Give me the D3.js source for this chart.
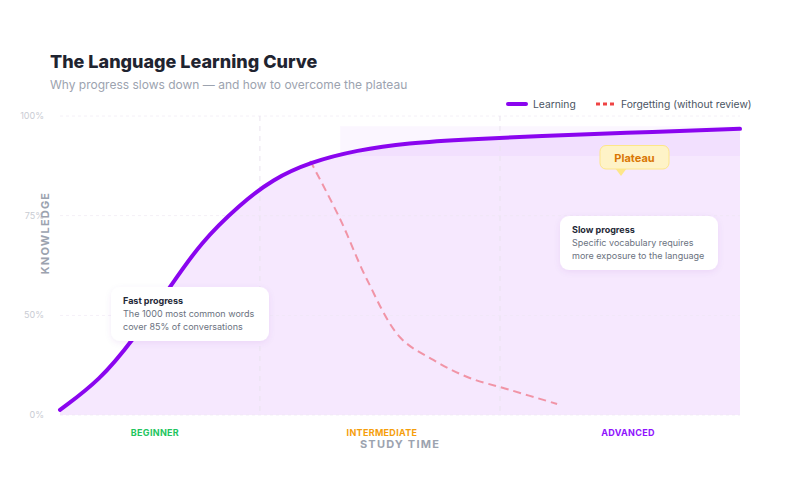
<!DOCTYPE html>
<html>
<head>
<meta charset="utf-8">
<script src="https://cdn.jsdelivr.net/npm/d3@7/dist/d3.min.js"></script>
<style>
  html, body { margin: 0; padding: 0; background: #ffffff; }
  svg { display: block; font-family: Inter, "Noto Sans", sans-serif; }
</style>
</head>
<body>
<svg id="chart" width="800" height="500"></svg>
<script>
// ---- data ----
const learnX = [0, 5.9, 10.7, 16.2, 20.6, 26.5, 31.3, 36.8, 43.7, 51.0, 60.7, 70.6, 82.4, 100];
const learnY = [1.7, 11.7, 25, 42.8, 57.5, 70.5, 78.9, 84.6, 88.6, 91, 92.3, 93.3, 94.3, 95.7];
const forgetX = [36.8, 41.2, 45.1, 50, 54.9, 59.9, 66, 73.1];
const forgetY = [85, 65.5, 45.5, 26, 18.4, 12.7, 8.5, 3.7];
const yTickPos = [0, 33.3, 66.7, 100];
const yTickLabels = ["0%", "50%", "75%", "100%"];
const phaseNames = ["BEGINNER", "INTERMEDIATE", "ADVANCED"];
const phaseBounds = [0, 29.4, 64.7, 100];
const phaseColors = ["#22c55e", "#f59e0b", "#9013fe"];
const plateauX = [41.2, 100];
const plateauY = [86.6, 96.6];

const svg = d3.select("#chart");
const W = 800, H = 500;
const m = { left: 60, right: 60, top: 116, bottom: 85 };

const x = d3.scaleLinear().domain([0, 100]).range([m.left, W - m.right]);
const y = d3.scaleLinear().domain([0, 100]).range([H - m.bottom, m.top]);

const defs = svg.append("defs");
const f = defs.append("filter").attr("id", "shadow").attr("x", "-20%").attr("y", "-30%").attr("width", "140%").attr("height", "170%");
f.append("feDropShadow").attr("dx", 0).attr("dy", 2).attr("stdDeviation", 3).attr("flood-color", "#6b21a8").attr("flood-opacity", 0.08);

// Title
svg.append("text").attr("x", 50).attr("y", 68).text("The Language Learning Curve")
  .attr("font-size", 18).attr("font-weight", 800).attr("fill", "#1f2430");
svg.append("text").attr("x", 50).attr("y", 89).text("Why progress slows down — and how to overcome the plateau")
  .attr("font-size", 12).attr("fill", "#9ca3af");

// Legend
const lg = svg.append("g");
lg.append("line").attr("x1", 508).attr("x2", 526).attr("y1", 104).attr("y2", 104)
  .attr("stroke", "#8a05ef").attr("stroke-width", 4).attr("stroke-linecap", "round");
lg.append("text").attr("x", 533).attr("y", 107.5).text("Learning").attr("font-size", 10.3).attr("fill", "#4b5563");
lg.append("line").attr("x1", 596).attr("x2", 614).attr("y1", 104).attr("y2", 104)
  .attr("stroke", "#ef4444").attr("stroke-width", 3).attr("stroke-dasharray", "4 3");
lg.append("text").attr("x", 621).attr("y", 107.5).text("Forgetting (without review)").attr("font-size", 10.3).attr("fill", "#4b5563");

// Area
const area = d3.area().x((d, i) => x(learnX[i])).y0(y(0)).y1((d, i) => y(learnY[i])).curve(d3.curveBasis);
svg.append("path").datum(learnY).attr("d", area).attr("fill", "#f6e8fe");

// Grid
svg.selectAll("line.h").data(yTickPos).join("line")
  .attr("x1", x(0)).attr("x2", x(100)).attr("y1", d => y(d)).attr("y2", d => y(d))
  .attr("stroke", "#ede6f1").attr("stroke-opacity", 0.6).attr("stroke-dasharray", "3 3");

// Plateau zone
svg.append("rect").attr("x", x(plateauX[0])).attr("y", y(plateauY[1]))
  .attr("width", x(plateauX[1]) - x(plateauX[0])).attr("height", y(plateauY[0]) - y(plateauY[1]))
  .attr("fill", "#a855f7").attr("fill-opacity", 0.05);

// Phase vertical dividers
svg.selectAll("line.v").data(phaseBounds.slice(1, 3)).join("line")
  .attr("x1", d => x(d)).attr("x2", d => x(d)).attr("y1", y(100)).attr("y2", y(0))
  .attr("stroke", "#e9e3ee").attr("stroke-dasharray", "5 5");

// Y axis labels
svg.selectAll("text.yt").data(yTickPos).join("text")
  .attr("x", 44).attr("y", d => y(d) + 3).attr("text-anchor", "end")
  .attr("font-size", 9).attr("fill", "#c9ccd3").text((d, i) => yTickLabels[i]);
svg.append("text").attr("transform", `translate(49,233) rotate(-90)`)
  .attr("text-anchor", "middle").attr("font-size", 11).attr("font-weight", 700)
  .attr("letter-spacing", 1.2).attr("fill", "#9ca3af").text("KNOWLEDGE");

// Forgetting curve
const fline = d3.line().x((d, i) => x(forgetX[i])).y(d => y(d)).curve(d3.curveCatmullRom);
svg.append("path").datum(forgetY).attr("d", fline).attr("fill", "none")
  .attr("stroke", "#f08596").attr("stroke-opacity", 0.85).attr("stroke-width", 2).attr("stroke-dasharray", "8 5");

// Learning curve
const lline = d3.line().x((d, i) => x(learnX[i])).y(d => y(d)).curve(d3.curveBasis);
svg.append("path").datum(learnY).attr("d", lline).attr("fill", "none")
  .attr("stroke", "#8a05ef").attr("stroke-width", 4).attr("stroke-linecap", "round");

// Phase labels
svg.selectAll("text.ph").data(phaseNames).join("text")
  .attr("x", (d, i) => (x(phaseBounds[i]) + x(phaseBounds[i + 1])) / 2 + [-5, 2, 8][i])
  .attr("y", 436).attr("text-anchor", "middle").attr("font-size", 9).attr("font-weight", 700)
  .attr("letter-spacing", 0.3).attr("fill", (d, i) => phaseColors[i]).text(d => d);
svg.append("text").attr("x", 400).attr("y", 448).attr("text-anchor", "middle")
  .attr("font-size", 11).attr("font-weight", 700).attr("letter-spacing", 1.2)
  .attr("fill", "#9ca3af").text("STUDY TIME");

// Annotation boxes
function box(bx, by, title, lines) {
  const g = svg.append("g");
  g.append("rect").attr("x", bx).attr("y", by).attr("width", 158).attr("height", 54).attr("rx", 9)
    .attr("fill", "#ffffff").attr("filter", "url(#shadow)");
  g.append("text").attr("x", bx + 12).attr("y", by + 17).attr("font-size", 9).attr("font-weight", 700)
    .attr("fill", "#1f2937").text(title);
  lines.forEach((t, i) => g.append("text").attr("x", bx + 12).attr("y", by + 30 + i * 12.5)
    .attr("font-size", 9).attr("fill", "#6b7280").text(t));
}
box(111, 287, "Fast progress", ["The 1000 most common words", "cover 85% of conversations"]);
box(560, 216, "Slow progress", ["Specific vocabulary requires", "more exposure to the language"]);

// Plateau callout
const pc = svg.append("g");
pc.append("path").attr("d", "M615,168 L627,168 L621,176 Z").attr("fill", "#fde68a");
pc.append("rect").attr("x", 600).attr("y", 145.5).attr("width", 69).attr("height", 23.5).attr("rx", 6)
  .attr("fill", "#fef3c7").attr("stroke", "#fde68a");
pc.append("text").attr("x", 634.5).attr("y", 161.5).attr("text-anchor", "middle")
  .attr("font-size", 11).attr("font-weight", 700).attr("fill", "#d97706").text("Plateau");
</script>
</body>
</html>
